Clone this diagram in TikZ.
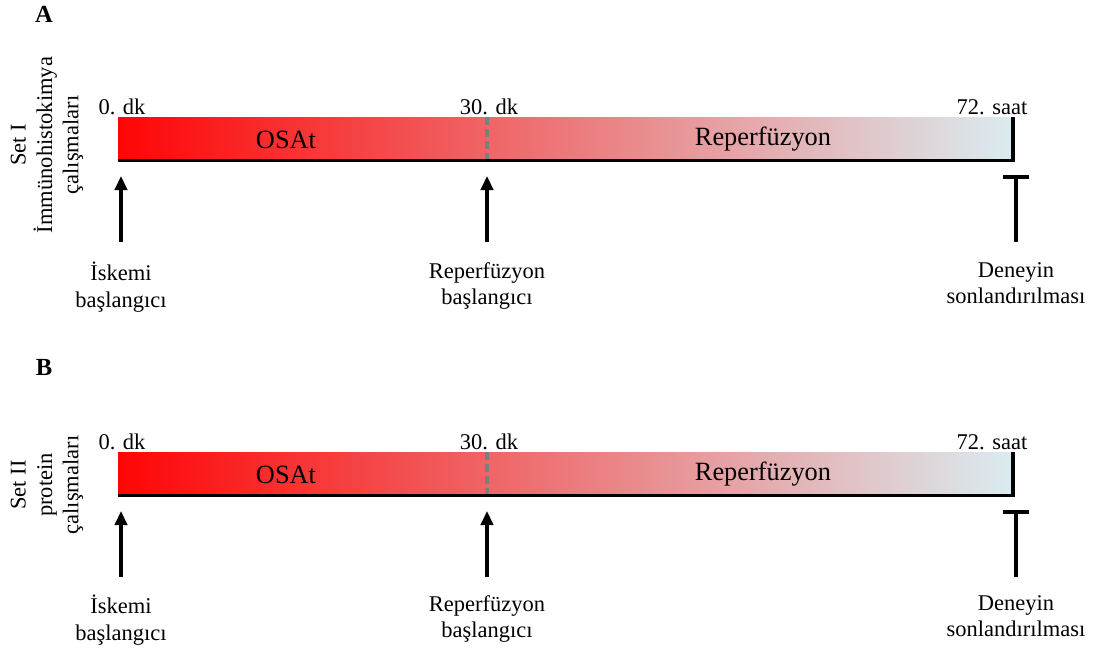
\documentclass[tikz,border=0pt]{standalone}
\usepackage{fontspec}
\setmainfont{Liberation Serif}
\usetikzlibrary{arrows.meta}

\definecolor{barred}{RGB}{255,5,5}
\definecolor{barmid}{RGB}{234,150,155}
\definecolor{barend}{RGB}{218,236,240}
\definecolor{dashgray}{RGB}{118,128,124}

\begin{document}
\begin{tikzpicture}[
    x=0.02cm, y=-0.02cm,
    every node/.style={inner sep=0pt, font=\fontsize{12.8}{15}\selectfont},
    panel/.style={font=\fontsize{14}{16}\selectfont\bfseries},
    phase/.style={font=\fontsize{15}{18}\selectfont},
    timebar/.style={left color=barred, middle color=barmid, right color=barend},
    baseline/.style={line width=2pt, line join=miter},
    split/.style={dashgray, line width=1.8pt, dash pattern=on 4.5pt off 2.3pt},
    uparrow/.style={-{Triangle[length=8pt, width=7pt]}, line width=2.2pt},
    stopbar/.style={-{Bar[width=14.5pt]}, line width=2.2pt}
]
\useasboundingbox (0,0) rectangle (1098,649);

\node[panel] (lblA) at (44,14) {A};
\node[panel] (lblB) at (44,367) {B};

% Set I
\node[rotate=90, align=center] (setA) at (47,145) {Set I\\İmmünohistokimya\\çalışmaları};
\shade[timebar] (118,117) rectangle (1013,159);
\draw[split] (487,117) -- (487,159);
\draw[baseline] (118,160.5) -- (1013,160.5) -- (1013,117);
\node[anchor=base] (t0A) at (122,114) {0. dk};
\node[anchor=base] (t30A) at (489,114) {30. dk};
\node[anchor=base] (t72A) at (992,114) {72. saat};
\node[phase, anchor=base] (osatA) at (286,148) {OSAt};
\node[phase, anchor=base] (repA) at (763,145) {Reperfüzyon};
\coordinate (tipA1) at (121,176);
\coordinate (tipA2) at (487,176);
\coordinate (endA) at (1016,175);
\node[anchor=north, align=center] (iskA) at (121,262) {İskemi\\başlangıcı};
\node[anchor=north, align=center] (rbA) at (487,262) {Reperfüzyon\\başlangıcı};
\node[anchor=north, align=center] (denA) at (1016,262) {Deneyin\\sonlandırılması};
\draw[uparrow, shorten <=11.5pt] (iskA) -- (tipA1);
\draw[uparrow, shorten <=11.5pt] (rbA) -- (tipA2);
\draw[stopbar, shorten <=11.5pt] (denA) -- (endA);

% Set II
\begin{scope}[shift={(0,335)}]
\node[rotate=90, align=center] (setB) at (47,150) {Set II\\protein\\çalışmaları};
\shade[timebar] (118,117) rectangle (1013,159);
\draw[split] (487,117) -- (487,159);
\draw[baseline] (118,160.5) -- (1013,160.5) -- (1013,117);
\node[anchor=base] (t0B) at (122,114) {0. dk};
\node[anchor=base] (t30B) at (489,114) {30. dk};
\node[anchor=base] (t72B) at (992,114) {72. saat};
\node[phase, anchor=base] (osatB) at (286,148) {OSAt};
\node[phase, anchor=base] (repB) at (763,145) {Reperfüzyon};
\coordinate (tipB1) at (121,176);
\coordinate (tipB2) at (487,176);
\coordinate (endB) at (1016,175);
\node[anchor=north, align=center] (iskB) at (121,260) {İskemi\\başlangıcı};
\node[anchor=north, align=center] (rbB) at (487,260) {Reperfüzyon\\başlangıcı};
\node[anchor=north, align=center] (denB) at (1016,260) {Deneyin\\sonlandırılması};
\draw[uparrow, shorten <=10.5pt] (iskB) -- (tipB1);
\draw[uparrow, shorten <=10.5pt] (rbB) -- (tipB2);
\draw[stopbar, shorten <=10.5pt] (denB) -- (endB);
\end{scope}
\end{tikzpicture}
\end{document}
